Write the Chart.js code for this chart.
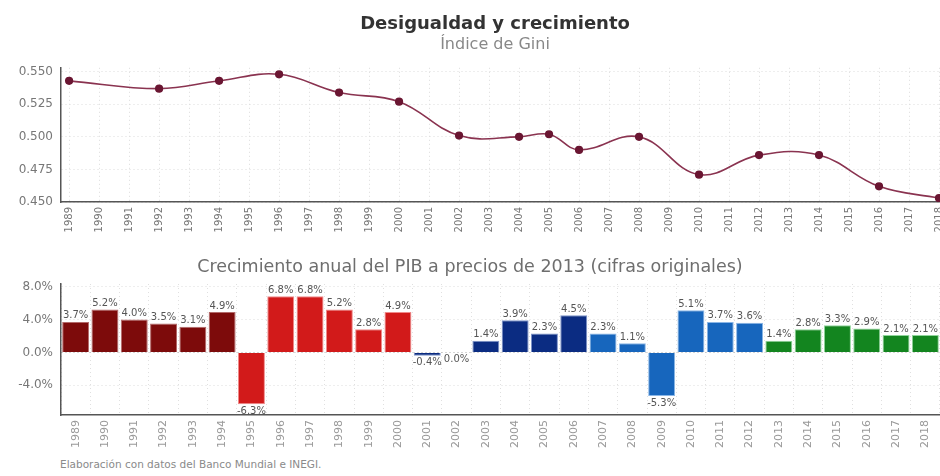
<!DOCTYPE html>
<html>
<head>
<meta charset="utf-8">
<script src="https://cdn.jsdelivr.net/npm/chart.js@4.4.1/dist/chart.umd.min.js"></script>
<style>
  html, body { margin: 0; padding: 0; overflow: hidden; background: #fff; width: 940px; height: 476px; }
  #wrap { position: relative; width: 1010px; height: 476px; }
  #top { position: absolute; left: 0; top: 0; width: 1010px; height: 250px; }
  #bottom { position: absolute; left: 0; top: 250px; width: 1010px; height: 205px; }
  #note { position: absolute; left: 60px; top: 458px; font: 10.5px "DejaVu Sans", sans-serif; color: #8a8a8a; }
</style>
</head>
<body>
<div id="wrap">
  <div id="top"><canvas id="giniChart"></canvas></div>
  <div id="bottom"><canvas id="pibChart"></canvas></div>
  <div id="note">Elaboración con datos del Banco Mundial e INEGI.</div>
</div>
<script>
const years = [1989, 1990, 1991, 1992, 1993, 1994, 1995, 1996, 1997, 1998, 1999, 2000, 2001, 2002, 2003,
  2004, 2005, 2006, 2007, 2008, 2009, 2010, 2011, 2012, 2013, 2014, 2015, 2016, 2017, 2018];

// Gini index, survey years only
const giniYears = [1989, 1992, 1994, 1996, 1998, 2000, 2002, 2004, 2005, 2006, 2008, 2010, 2012, 2014, 2016, 2018];
const giniValues = [0.543, 0.537, 0.543, 0.548, 0.534, 0.527, 0.501, 0.500, 0.502, 0.490, 0.500, 0.471, 0.486, 0.486, 0.462, 0.453];
const giniTicks = [0.45, 0.475, 0.5, 0.525, 0.55];

// annual GDP growth (%)
const pibValues = [3.7, 5.2, 4.0, 3.5, 3.1, 4.9, -6.3, 6.8, 6.8, 5.2, 2.8, 4.9, -0.4, 0.0, 1.4,
  3.9, 2.3, 4.5, 2.3, 1.1, -5.3, 5.1, 3.7, 3.6, 1.4, 2.8, 3.3, 2.9, 2.1, 2.1];
const pibTicks = [-4, 0, 4, 8];

const FONT = '"DejaVu Sans", sans-serif';
Chart.defaults.font.family = FONT;

function termColor(year, light) {
  if (year <= 1994) return light ? "#b36a6a" : "#7d0b0b";
  if (year <= 2000) return light ? "#f08a8a" : "#d21a1a";
  if (year <= 2006) return light ? "#7d93c8" : "#0b2c82";
  if (year <= 2012) return light ? "#8ab6e6" : "#1766bd";
  return light ? "#8fd49a" : "#13851f";
}

const dotted = { color: "#555", width: 1.5, dash: [1, 3] };

new Chart(document.getElementById("giniChart"), {
  type: "line",
  data: {
    datasets: [
      {
        label: "Índice de Gini",
        data: giniYears.map((y, i) => ({ x: y, y: giniValues[i] })),
        borderColor: "#8a3350",
        borderWidth: 1.6,
        pointBackgroundColor: "#6a1632",
        pointBorderColor: "#6a1632",
        pointRadius: 3.3,
        tension: 0.4,
      },
    ],
  },
  options: {
    responsive: true,
    maintainAspectRatio: false,
    animation: false,
    layout: { padding: { top: 12, right: 20, bottom: 10, left: 0 } },
    plugins: {
      legend: { display: false },
      tooltip: { enabled: false },
      title: {
        display: true,
        text: "Desigualdad y crecimiento",
        color: "#333",
        font: { size: 18, weight: "bold" },
        padding: { top: 2, bottom: 0 },
      },
      subtitle: {
        display: true,
        text: "Índice de Gini",
        color: "#888",
        font: { size: 16 },
        padding: { top: 0, bottom: 13 },
      },
    },
    scales: {
      x: {
        type: "linear",
        min: 1988.73,
        max: 2019.7,
        afterBuildTicks: (s) => { s.ticks = years.map((v) => ({ value: v })); },
        afterFit: (s) => { s.height = 38; },
        ticks: {
          autoSkip: false,
          minRotation: 90,
          maxRotation: 90,
          color: "#777",
          font: { size: 10 },
          padding: 5,
          callback: (v) => String(v),
        },
        grid: { color: "#dcdcdc", drawTicks: false },
        border: dotted,
      },
      y: {
        min: 0.45,
        max: 0.553,
        afterBuildTicks: (s) => { s.ticks = giniTicks.map((v) => ({ value: v })); },
        afterFit: (s) => { s.width = 61; },
        ticks: {
          color: "#777",
          font: { size: 12 },
          padding: 8,
          callback: (v) => v.toFixed(3),
        },
        grid: { color: "#dcdcdc", drawTicks: false },
        border: dotted,
      },
    },
  },
});

const barLabels = {
  id: "barLabels",
  afterDatasetsDraw(chart) {
    const ctx = chart.ctx;
    const meta = chart.getDatasetMeta(0);
    ctx.save();
    ctx.font = "10px " + FONT;
    ctx.fillStyle = "#555";
    ctx.textAlign = "center";
    meta.data.forEach((bar, i) => {
      const v = pibValues[i];
      const text = v.toFixed(1) + "%";
      if (v > 0) {
        ctx.textBaseline = "bottom";
        ctx.fillText(text, bar.x, bar.y - 1);
      } else {
        ctx.textBaseline = "top";
        ctx.fillText(text, bar.x, bar.y + 2);
      }
    });
    ctx.restore();
  },
};

new Chart(document.getElementById("pibChart"), {
  type: "bar",
  data: {
    labels: years.map(String),
    datasets: [
      {
        label: "Crecimiento anual del PIB",
        data: pibValues,
        backgroundColor: years.map((y) => termColor(y, false)),
        borderColor: years.map((y) => termColor(y, true)),
        borderWidth: 1,
        categoryPercentage: 0.92,
        barPercentage: 1,
      },
    ],
  },
  options: {
    responsive: true,
    maintainAspectRatio: false,
    animation: false,
    layout: { padding: { top: 5, right: 70, bottom: 2, left: 0 } },
    plugins: {
      legend: { display: false },
      tooltip: { enabled: false },
      title: {
        display: true,
        text: "Crecimiento anual del PIB a precios de 2013 (cifras originales)",
        color: "#6e6e6e",
        font: { size: 17.5, weight: "normal" },
        padding: { top: 2, bottom: 6 },
      },
    },
    scales: {
      x: {
        afterFit: (s) => { s.height = 38; },
        ticks: {
          autoSkip: false,
          minRotation: 90,
          maxRotation: 90,
          color: "#999",
          font: { size: 11 },
          padding: 5,
        },
        grid: { color: "#e0e0e0", drawTicks: false },
        border: dotted,
      },
      y: {
        min: -7.6,
        max: 8.3,
        afterBuildTicks: (s) => { s.ticks = pibTicks.map((v) => ({ value: v })); },
        afterFit: (s) => { s.width = 61; },
        ticks: {
          color: "#777",
          font: { size: 12 },
          padding: 8,
          callback: (v) => v.toFixed(1) + "%",
        },
        grid: {
          color: (c) => (c.tick && c.tick.value === 0 ? "#aaa" : "#dcdcdc"),
          drawTicks: false,
        },
        border: dotted,
      },
    },
  },
  plugins: [barLabels],
});
</script>
</body>
</html>
